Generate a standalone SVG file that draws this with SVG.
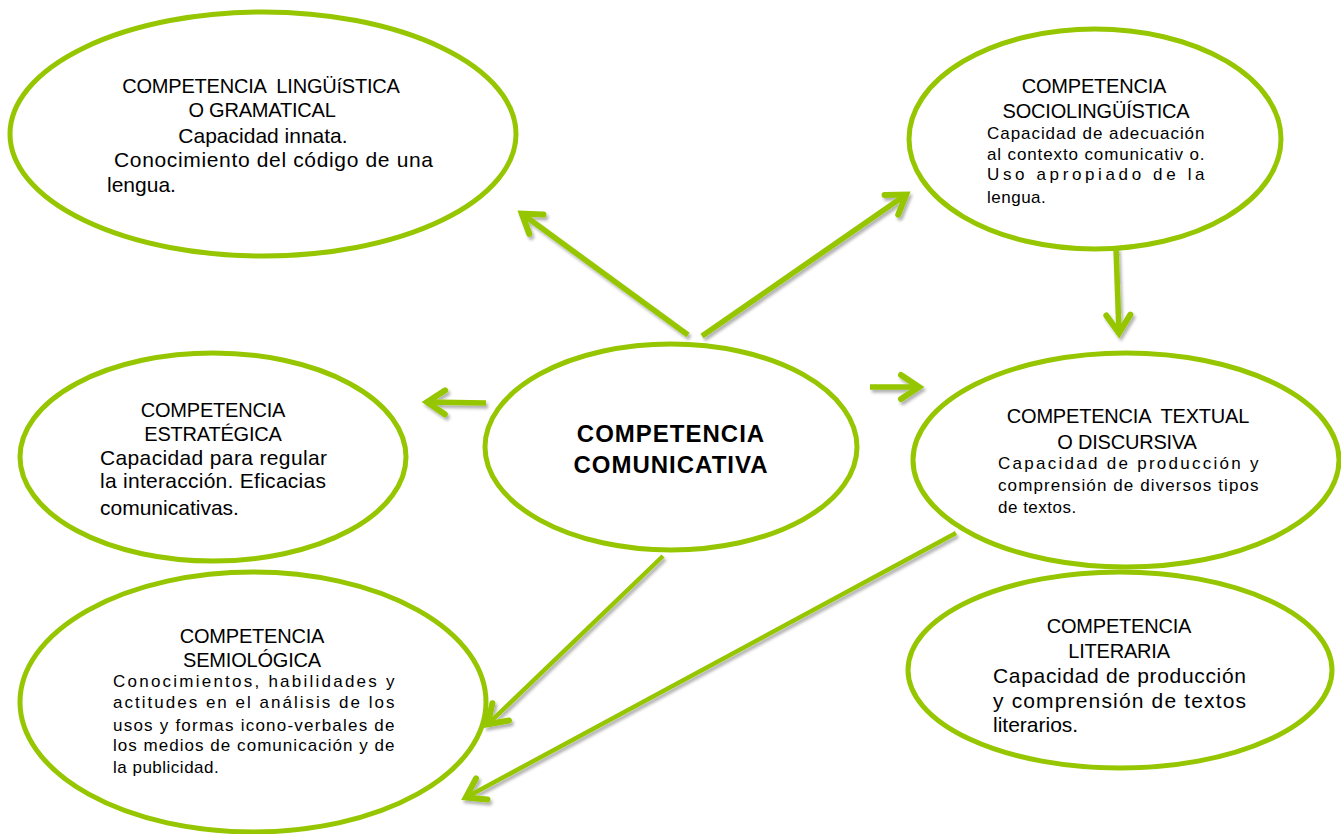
<svg xmlns="http://www.w3.org/2000/svg" width="1341" height="834" viewBox="0 0 1341 834">
<style>
.ell{fill:#fff;stroke:#95c600;stroke-width:5}
.con{stroke:#95c600;stroke-width:5.5;fill:none;stroke-linecap:butt}
.thin{stroke-width:4.5}
text{font-family:"Liberation Sans",Arial,sans-serif;fill:#000;white-space:pre}
.h{font-size:20px;text-anchor:middle;letter-spacing:-0.2px}
.b{font-size:21px}
.s{font-size:17px;letter-spacing:0.5px}
.c{font-size:24px;font-weight:bold;text-anchor:middle;letter-spacing:1px}
</style>
<defs>
<filter id="sh" filterUnits="userSpaceOnUse" x="0" y="0" width="1341" height="834">
<feDropShadow dx="2" dy="3" stdDeviation="1.5" flood-color="#000" flood-opacity="0.3"/>
</filter>
<marker id="ah" markerUnits="userSpaceOnUse" markerWidth="40" markerHeight="40" refX="0" refY="0" orient="auto" overflow="visible">
<path d="M -19 -12 L -1 0 L -19 12" fill="none" stroke="#95c600" stroke-width="6" stroke-linecap="round" stroke-linejoin="miter"/>
</marker>
</defs>
<rect width="1341" height="834" fill="#fff"/>
<g id="linguistica">
<ellipse class="ell" cx="263" cy="134" rx="253" ry="122"/>
<text class="h" x="261" y="93" xml:space="preserve">COMPETENCIA  LINGÜíSTICA</text>
<text class="h" x="262" y="117">O GRAMATICAL</text>
<text class="b" x="263" y="143" text-anchor="middle">Capacidad innata.</text>
<text class="b" x="114" y="167" textLength="319" lengthAdjust="spacing">Conocimiento del código de una</text>
<text class="b" x="107" y="192">lengua.</text>
</g>
<g id="sociolinguistica">
<ellipse class="ell" cx="1095" cy="139" rx="186" ry="110"/>
<text class="h" x="1094" y="93">COMPETENCIA</text>
<text class="h" x="1096" y="118">SOCIOLINGÜÍSTICA</text>
<text class="s" x="987" y="139" textLength="218" lengthAdjust="spacing">Capacidad de adecuación</text>
<text class="s" x="987" y="160" textLength="218" lengthAdjust="spacing">al contexto comunicativ o.</text>
<text class="s" x="987" y="180" textLength="218" lengthAdjust="spacing">Uso apropiado de la</text>
<text class="s" x="987" y="203">lengua.</text>
</g>
<g id="estrategica">
<ellipse class="ell" cx="213" cy="457" rx="193" ry="104"/>
<text class="h" x="213" y="417">COMPETENCIA</text>
<text class="h" x="213" y="441">ESTRATÉGICA</text>
<text class="b" x="100" y="465" textLength="227" lengthAdjust="spacing">Capacidad para regular</text>
<text class="b" x="100" y="488" textLength="226" lengthAdjust="spacing">la interacción. Eficacias</text>
<text class="b" x="100" y="515">comunicativas.</text>
</g>
<g id="comunicativa">
<ellipse class="ell" cx="671" cy="447" rx="186" ry="103"/>
<text class="c" x="671" y="442">COMPETENCIA</text>
<text class="c" x="671" y="473">COMUNICATIVA</text>
</g>
<g id="textual">
<ellipse class="ell" cx="1126" cy="460" rx="213" ry="107"/>
<text class="h" x="1128" y="423" xml:space="preserve">COMPETENCIA  TEXTUAL</text>
<text class="h" x="1127" y="449">O DISCURSIVA</text>
<text class="s" x="998" y="469" textLength="261" lengthAdjust="spacing">Capacidad de producción y</text>
<text class="s" x="998" y="491" textLength="261" lengthAdjust="spacing">comprensión de diversos tipos</text>
<text class="s" x="998" y="513">de textos.</text>
</g>
<g id="semiologica">
<ellipse class="ell" cx="253" cy="702" rx="233" ry="130"/>
<text class="h" x="252" y="643">COMPETENCIA</text>
<text class="h" x="252" y="667">SEMIOLÓGICA</text>
<text class="s" x="113" y="687" textLength="282" lengthAdjust="spacing">Conocimientos, habilidades y</text>
<text class="s" x="113" y="708" textLength="282" lengthAdjust="spacing">actitudes en el análisis de los</text>
<text class="s" x="113" y="731" textLength="282" lengthAdjust="spacing">usos y formas icono-verbales de</text>
<text class="s" x="113" y="751" textLength="282" lengthAdjust="spacing">los medios de comunicación y de</text>
<text class="s" x="113" y="773">la publicidad.</text>
</g>
<g id="literaria">
<ellipse class="ell" cx="1120" cy="670" rx="212" ry="98"/>
<text class="h" x="1119" y="633">COMPETENCIA</text>
<text class="h" x="1119" y="658">LITERARIA</text>
<text class="b" x="993" y="683" textLength="253" lengthAdjust="spacing">Capacidad de producción</text>
<text class="b" x="993" y="708" textLength="253" lengthAdjust="spacing">y comprensión de textos</text>
<text class="b" x="993" y="732">literarios.</text>
</g>
<g id="connectors" filter="url(#sh)">
<line class="con" x1="688" y1="335" x2="521" y2="213" marker-end="url(#ah)"/>
<line class="con" x1="702" y1="336" x2="907" y2="194" marker-end="url(#ah)"/>
<line class="con" x1="1116" y1="248" x2="1119" y2="334" marker-end="url(#ah)"/>
<line class="con" x1="486" y1="403" x2="426" y2="402" marker-end="url(#ah)"/>
<line class="con" x1="870" y1="387" x2="920" y2="387" marker-end="url(#ah)"/>
<line class="con thin" x1="663" y1="556" x2="487" y2="725" marker-end="url(#ah)"/>
<line class="con thin" x1="956" y1="533" x2="465" y2="798" marker-end="url(#ah)"/>
</g>
</svg>
